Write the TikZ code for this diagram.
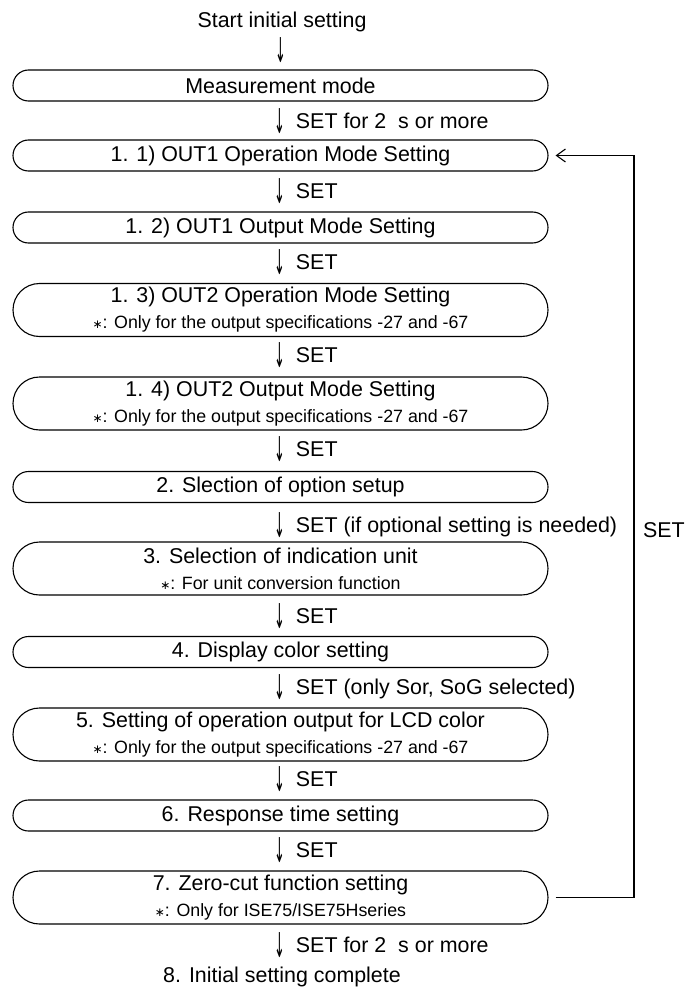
\documentclass[tikz,border=0pt]{standalone}
\usepackage{fontspec}
\usepackage{graphicx}
\setmainfont{Liberation Sans}
\newfontfamily\dejavu{DejaVu Sans}
\usetikzlibrary{shapes.misc,arrows.meta}
\newcommand{\myast}{{\dejavu\fontsize{12}{12}\selectfont ∗}}
\newcommand{\dn}{\raisebox{-5pt}{\scalebox{0.6}[1.6]{\dejavu ↓}}}
\newcommand{\subline}[1]{{\fontsize{17.8}{20}\selectfont #1}}
\begin{document}
\begin{tikzpicture}[x=1pt,y=-1pt,
  box/.style={draw, line width=1.1pt, rounded rectangle, minimum width=535pt, minimum height=31pt, inner sep=0pt, align=center, font=\fontsize{21.4}{23}\selectfont},
  tallbox/.style={box, minimum height=53pt},
  main/.style={font=\fontsize{21.4}{23}\selectfont, inner sep=0pt},
  setlbl/.style={main, anchor=west},
  every node/.append style={text=black}]
\useasboundingbox (0,0) rectangle (690,987);
\node[main] (start) at (282,22) {Start initial setting};
\node[main] (a0) at (281,50) {\dn};
\node[box] (m) at (280.5,85.5) {Measurement mode};
\node[setlbl] (l1) at (274,121) {\dn\hspace{11pt}SET for 2\ \ s or more};
\node[box] (b11) at (280.5,155.5) {1. 1) OUT1 Operation Mode Setting};
\node[setlbl] (l2) at (274,191) {\dn\hspace{11pt}SET};
\node[box] (b12) at (280.5,227.5) {1. 2) OUT1 Output Mode Setting};
\node[setlbl] (l3) at (274,262) {\dn\hspace{11pt}SET};
\node[tallbox] (b13) at (280.5,310) {1. 3) OUT2 Operation Mode Setting\\[3pt]\subline{\myast: Only for the output specifications -27 and -67}};
\node[setlbl] (l4) at (274,355) {\dn\hspace{11pt}SET};
\node[tallbox] (b14) at (280.5,403.5) {1. 4) OUT2 Output Mode Setting\\[3pt]\subline{\myast: Only for the output specifications -27 and -67}};
\node[setlbl] (l5) at (274,449) {\dn\hspace{11pt}SET};
\node[box] (b2) at (280.5,487) {2. Slection of option setup};
\node[setlbl] (l6) at (274,525) {\dn\hspace{11pt}SET (if optional setting is needed)};
\node[tallbox] (b3) at (280.5,568.5) {3. Selection of indication unit\\[3pt]\subline{\myast: For unit conversion function}};
\node[setlbl] (l7) at (274,616) {\dn\hspace{11pt}SET};
\node[box] (b4) at (280.5,652) {4. Display color setting};
\node[setlbl] (l8) at (274,687) {\dn\hspace{11pt}SET (only Sor, SoG selected)};
\node[tallbox] (b5) at (280.5,734.5) {5. Setting of operation output for LCD color\\[3pt]\subline{\myast: Only for the output specifications -27 and -67}};
\node[setlbl] (l9) at (274,779) {\dn\hspace{11pt}SET};
\node[box] (b6) at (280.5,815.5) {6. Response time setting};
\node[setlbl] (l10) at (274,850) {\dn\hspace{11pt}SET};
\node[tallbox] (b7) at (280.5,897.5) {7. Zero-cut function setting\\[3pt]\subline{\myast: Only for ISE75/ISE75Hseries}};
\node[setlbl] (l11) at (274,945) {\dn\hspace{11pt}SET for 2\ \ s or more};
\node[main] (end) at (282,977) {8. Initial setting complete};
\node[main] (loopset) at (664,530) {SET};
\coordinate (lx) at (634,0);
\draw[line width=1.1pt, -{Straight Barb[length=9pt,width=13pt]}]
  ([xshift=7pt]b7.east) -- (b7.east -| lx) -- (b11.east -| lx) -- ([xshift=7pt]b11.east);
\end{tikzpicture}
\end{document}
